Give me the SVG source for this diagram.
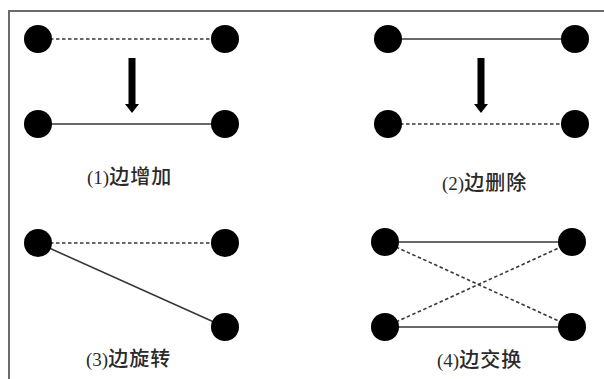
<svg xmlns="http://www.w3.org/2000/svg" width="604" height="379" viewBox="0 0 604 379">
  <defs>
    <style>
      .frame { fill: none; stroke: #6e6a6a; stroke-width: 2; }
      .node { fill: #000; }
      .solid { stroke: #3a3636; stroke-width: 1.6; fill: none; }
      .dash { stroke: #3a3636; stroke-width: 1.6; fill: none; stroke-dasharray: 3.5 2.5; }
      .label { font-family: "Liberation Serif", "Noto Sans CJK SC", serif; font-size: 19px; fill: #2a2a2a; font-weight: 500; }
      .cjk { font-size: 20px; letter-spacing: 1px; }
      .arrow { fill: #000; }
    </style>
  </defs>
  <rect width="604" height="379" fill="#fff"/>
  <!-- open frame: top and left edges only -->
  <path class="frame" d="M604 11 H9 V379"/>

  <!-- connectors -->
  <g id="connectors">
    <!-- (1) edge addition -->
    <line class="dash" x1="38" y1="39" x2="225" y2="39"/>
    <line class="solid" x1="38" y1="124" x2="225" y2="124"/>
    <!-- (2) edge deletion -->
    <line class="solid" x1="388" y1="39" x2="575" y2="39"/>
    <line class="dash" x1="388" y1="124" x2="575" y2="124"/>
    <!-- (3) edge rotation -->
    <line class="dash" x1="38" y1="243" x2="225" y2="243"/>
    <line class="solid" x1="38" y1="243" x2="225" y2="327"/>
    <!-- (4) edge swap -->
    <line class="solid" x1="385" y1="242" x2="572" y2="242"/>
    <line class="solid" x1="385" y1="327" x2="572" y2="327"/>
    <line class="dash" x1="385" y1="242" x2="572" y2="327"/>
    <line class="dash" x1="385" y1="327" x2="572" y2="242"/>
    <!-- transition arrows -->
    <path class="arrow" d="M128.5 58 H135.5 V104 H139 L132 113 L125 104 H128.5 Z"/>
    <path class="arrow" d="M477.5 58 H484.5 V104 H488 L481 113 L474 104 H477.5 Z"/>
  </g>

  <g id="n1a"><circle class="node" cx="38" cy="39" r="14"/></g>
  <g id="n1b"><circle class="node" cx="225" cy="39" r="14"/></g>
  <g id="n1c"><circle class="node" cx="38" cy="124" r="14"/></g>
  <g id="n1d"><circle class="node" cx="225" cy="124" r="14"/></g>

  <g id="n2a"><circle class="node" cx="388" cy="39" r="14"/></g>
  <g id="n2b"><circle class="node" cx="575" cy="39" r="14"/></g>
  <g id="n2c"><circle class="node" cx="388" cy="124" r="14"/></g>
  <g id="n2d"><circle class="node" cx="575" cy="124" r="14"/></g>

  <g id="n3a"><circle class="node" cx="38" cy="243" r="14"/></g>
  <g id="n3b"><circle class="node" cx="225" cy="243" r="14"/></g>
  <g id="n3c"><circle class="node" cx="225" cy="327" r="14"/></g>

  <g id="n4a"><circle class="node" cx="385" cy="242" r="14"/></g>
  <g id="n4b"><circle class="node" cx="572" cy="242" r="14"/></g>
  <g id="n4c"><circle class="node" cx="385" cy="327" r="14"/></g>
  <g id="n4d"><circle class="node" cx="572" cy="327" r="14"/></g>

  <g id="labels">
    <text class="label" x="87" y="184">(1)<tspan class="cjk">边增加</tspan></text>
    <text class="label" x="442" y="190">(2)<tspan class="cjk">边删除</tspan></text>
    <text class="label" x="86" y="366">(3)<tspan class="cjk">边旋转</tspan></text>
    <text class="label" x="437" y="367">(4)<tspan class="cjk">边交换</tspan></text>
  </g>
</svg>
